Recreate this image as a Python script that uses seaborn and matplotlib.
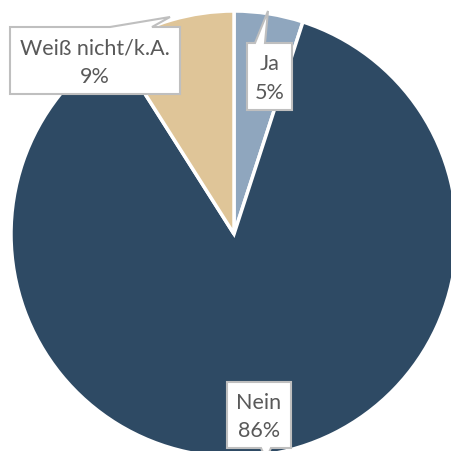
import matplotlib
matplotlib.use("Agg")
import matplotlib.pyplot as plt
import seaborn as sns
from matplotlib.patches import Polygon

categories = ["Ja", "Nein", "Weiß nicht/k.A."]
values = [5, 86, 9]
colors = ["#8FA6BE", "#2E4A64", "#DFC598"]

sns.set_theme(style="white")
plt.rcParams['font.family'] = ['Lato', 'DejaVu Sans']

W, H = 451, 452
fig = plt.figure(figsize=(W / 100, H / 100), dpi=100)

cx, cy, r = 234, 235, 223
ax = fig.add_axes([(cx - r) / W, (H - cy - r) / H, 2 * r / W, 2 * r / H])
ax.pie(values, colors=sns.color_palette(colors), startangle=90, counterclock=False,
       wedgeprops=dict(edgecolor="white", linewidth=2.5))
ax.set_xlim(-1, 1)
ax.set_ylim(-1, 1)
ax.set_aspect("equal")
ax.axis("off")

ov = fig.add_axes([0, 0, 1, 1])
ov.set_xlim(0, W)
ov.set_ylim(H, 0)
ov.axis("off")

# box: (x0, y0, x1, y1), wedge side, wedge xa, xb, tip
boxes = {
    "Ja": ((247, 44, 292, 111), "top", 255, 265, (268, 12)),
    "Nein": ((227, 383, 291, 449), "bottom", 261, 271, (266, 460)),
    "Weiß nicht/k.A.": ((10, 28, 180, 95), "top", 110, 152, (170, 18)),
}

for cat, val in zip(categories, values):
    (x0, y0, x1, y1), side, xa, xb, tip = boxes[cat]
    if side == "top":
        pts = [(x0, y0), (xa, y0), tip, (xb, y0), (x1, y0), (x1, y1), (x0, y1)]
    else:
        pts = [(x0, y0), (x1, y0), (x1, y1), (xb, y1), tip, (xa, y1), (x0, y1)]
    ov.add_patch(Polygon(pts, closed=True, facecolor="white", edgecolor="#BFBFBF",
                         linewidth=1.5, clip_on=False))
    ov.text((x0 + x1) / 2, (y0 + y1) / 2 + 1, f"{cat}\n{val}%", ha="center", va="center",
            color="#595959", fontsize=15.5, linespacing=1.55)

fig.savefig("out.png", dpi=100)
